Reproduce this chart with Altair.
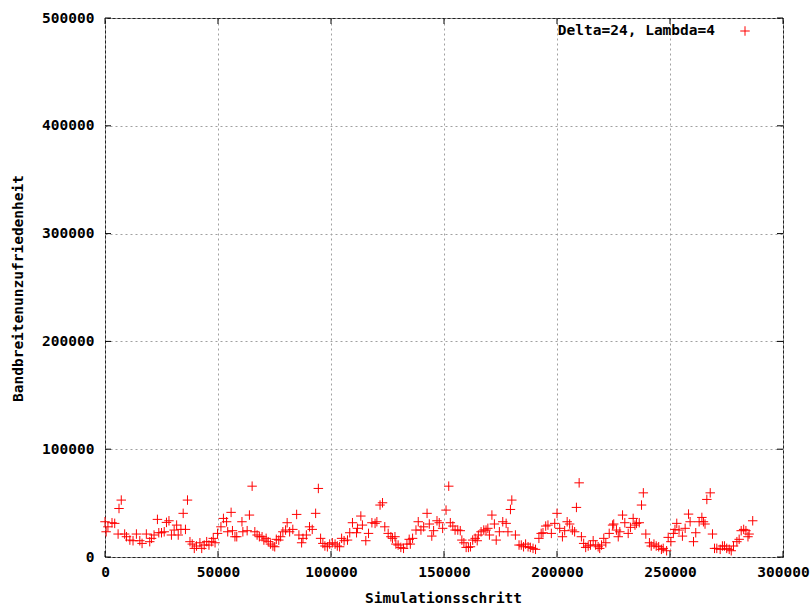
import altair as alt
import pandas as pd

# Simulation step (x) and bandwidth dissatisfaction (y)
steps = [
    0, 500, 1300, 3100, 4300, 5800, 6200, 7200, 8700, 9500, 11000, 12400, 13900, 15400, 16400,
    18300, 19800, 20600, 21700, 23200, 23800, 25000, 26200, 27200, 28300, 29400, 30600, 31700,
    32400, 33600, 34600, 35600, 36500, 37600, 38600, 39500, 40500, 42000, 42800, 43900, 45000,
    46000, 47200, 47900, 48700, 49800, 51300, 52400, 53800, 54300, 55800, 56400, 57500, 58300,
    60600, 61000, 62900, 63900, 65100, 66300, 67300, 68300, 69500, 70300, 71300, 72200, 73200,
    74300, 75100, 75800, 76900, 77700, 78700, 79900, 80600, 81700, 83100, 84800, 85800, 87000,
    87600, 89100, 90500, 91700, 93200, 94400, 95400, 96400, 97300, 98400, 99400, 100600, 101800,
    102800, 103800, 104700, 105800, 107300, 108300, 109500, 111300, 111700, 113200, 113900,
    115400, 116600, 118100, 119500, 120300, 121700, 122800, 123800, 125300, 126500, 127200,
    128300, 128700, 129700, 130900, 132100, 133600, 134600, 135100, 136100, 137600, 138600,
    139800, 141000, 142500, 143500, 144600, 145400, 146900, 147900, 149400, 150900, 152100,
    152800, 153900, 154900, 156100, 157200, 157900, 158800, 159800, 160800, 161700, 162700,
    163800, 164700, 165200, 166400, 167600, 168600, 169400, 170100, 171200, 172300, 173100,
    174500, 176000, 177500, 178300, 179400, 180000, 181600, 183200, 184200, 185200, 186100,
    187200, 188200, 189400, 190500, 192000, 193000, 193800, 195000, 196000, 197500, 199000,
    200000, 201200, 202400, 203400, 204500, 205600, 206800, 207800, 208600, 209800, 210800,
    211800, 212700, 213800, 214800, 216000, 217100, 218200, 218900, 219700, 220700, 221600,
    223100, 224600, 225100, 226300, 227100, 227800, 229000, 230000, 231500, 232500, 233700,
    234500, 235200, 236400, 237400, 238200, 239300, 240900, 241700, 242900, 243900, 245000,
    246200, 247000, 248500, 249200, 250400, 251500, 252200, 253000, 254000, 255500, 256700,
    258200, 258900, 260400, 261400, 262900, 264100, 264800, 265500, 266300, 267800, 268800,
    269700, 270700, 272200, 273200, 274100, 275100, 276200, 277100, 278100, 279600, 280600,
    281500, 282600, 283600, 284500, 285000, 286600,
]
dissatisfaction = [
    32700, 23400, 28000, 31800, 31200, 21300, 45000, 52800, 21300, 18800, 15700, 15100, 21300, 15100, 12600,
    21300, 14200, 17300, 20400, 34900, 22500, 22500, 23400, 32100, 33600, 20400, 25000, 29600,
    20400, 25600, 40500, 25600, 52800, 14200, 12000, 8000, 10200, 13200, 8000, 11100, 14200,
    11100, 14200, 17300, 13200, 21900, 28000, 35800, 32700, 23400, 41400, 24400, 18800, 18800,
    32700, 23400, 24400, 38900, 65700, 23400, 20400, 18800, 18800, 15700, 17300, 14200, 12000,
    10200, 9500, 16400, 15700, 18800, 23400, 25000, 31800, 23400, 25600, 39500, 20400, 13200,
    17300, 20400, 28000, 25600, 40500, 63600, 17300, 12600, 10200, 9500, 12000, 13200, 12000,
    10200, 9500, 17300, 15100, 15700, 22500, 31800, 22500, 26600, 38000, 29600,
    15100, 21900, 31800, 31200, 32700, 48200, 50300, 28000, 21900, 18800, 17300,
    18800, 12000, 11100, 8900, 8000, 12000, 16400, 12000, 17300, 25000, 32700,
    25000, 28000, 40500, 30600, 19400, 24400, 33600, 31800, 26600, 43500, 65700,
    31800, 28700, 25000, 25000, 24400, 15700, 13200, 8900, 8900, 9500, 15700,
    17300, 15100, 20400, 23400, 25000, 25000, 26600, 20400, 38900, 30600, 15700,
    23400, 32700, 31200, 23400, 44100, 52800, 20400, 11100, 11100, 9500, 12000,
    9500, 8900, 8000, 7100, 17300, 21900, 22500, 28700, 29600, 21900, 31200,
    40500, 26600, 18800, 24400, 32700, 30600, 25000, 23400, 46000, 68800, 18800,
    12600, 8900, 10200, 11100, 15100, 11100, 9500, 8000, 11100, 17300, 13200,
    21900, 29600, 30600, 25000, 18800, 23400, 38900, 31800, 21900, 27500, 35800,
    29600, 31200, 31800, 48200, 59500, 21300, 13200, 10200, 12000, 10200, 9500,
    7100, 8000, 5800, 18200, 14200, 21900, 25600, 31200, 25000, 19400, 26600,
    39800, 32700, 14200, 22500, 32700, 36700, 32700, 30600, 53400, 59500, 21300,
    8000, 8000, 7100, 10200, 10200, 8000, 7100, 5800, 10200, 14200, 16400,
    24400, 25600, 24400, 18800, 21300, 33600,
]

x_tick_values = [0, 50000, 100000, 150000, 200000, 250000, 300000]
y_tick_values = [0, 100000, 200000, 300000, 400000, 500000]
series_label = "Delta=24, Lambda=4"
x_title = "Simulationsschritt"
y_title = "Bandbreitenunzufriedenheit"

W, H = 678, 539
FONT = "DejaVu Sans Mono"
RED = "#ff0000"
PLUS = "M-1,0L1,0M0,-1L0,1"

df = pd.DataFrame({"step": steps, "value": dissatisfaction})
xt = pd.DataFrame({"step": x_tick_values})
yt = pd.DataFrame({"value": y_tick_values})
leg = pd.DataFrame({"label": [series_label]})

xscale = alt.Scale(domain=[0, 300000], nice=False, zero=False)
yscale = alt.Scale(domain=[0, 500000], nice=False, zero=False)

xaxis = alt.Axis(values=x_tick_values, format="d", title=x_title,
                 titleX=338, titleY=41, titleBaseline="middle", titleAlign="center")
yaxis = alt.Axis(values=y_tick_values, format="d", title=y_title,
                 titleX=-87, titleY=270, titleBaseline="middle", titleAlign="center",
                 titleAngle=-90)

X = alt.X("step:Q", scale=xscale, axis=xaxis)
Y = alt.Y("value:Q", scale=yscale, axis=yaxis)

points = alt.Chart(df).mark_point(
    shape=PLUS, filled=False, color=RED, stroke=RED, strokeWidth=1, size=90, opacity=1
).encode(x=X, y=Y)

tick_len = 6
xt_bottom = alt.Chart(xt).mark_rule(color="#000", strokeWidth=1).encode(
    x=X, y=alt.value(H), y2=alt.value(H - tick_len))
xt_top = alt.Chart(xt).mark_rule(color="#000", strokeWidth=1).encode(
    x=X, y=alt.value(0), y2=alt.value(tick_len))
yt_left = alt.Chart(yt).mark_rule(color="#000", strokeWidth=1).encode(
    y=Y, x=alt.value(0), x2=alt.value(tick_len))
yt_right = alt.Chart(yt).mark_rule(color="#000", strokeWidth=1).encode(
    y=Y, x=alt.value(W), x2=alt.value(W - tick_len))

leg_text = alt.Chart(leg).mark_text(
    align="right", baseline="middle", font=FONT, fontWeight="bold", fontSize=14.5, color="#000"
).encode(text="label:N", x=alt.value(610), y=alt.value(13))
leg_sym = alt.Chart(leg).mark_point(
    shape=PLUS, filled=False, color=RED, stroke=RED, strokeWidth=1, size=90, opacity=1
).encode(x=alt.value(640), y=alt.value(13))

chart = alt.layer(points, xt_bottom, xt_top, yt_left, yt_right, leg_text, leg_sym).properties(
    width=W, height=H,
    autosize=alt.AutoSizeParams(type="none"),
    padding={"left": 105, "top": 18, "right": 28, "bottom": 48},
    background="white",
).configure_view(
    stroke="#222", strokeWidth=1
).configure_axis(
    grid=True, gridColor="#a0a0a0", gridDash=[2, 3], gridWidth=1,
    ticks=False, domain=False,
    labelFont=FONT, labelFontWeight="bold", labelFontSize=14.5, labelColor="#000",
    titleFont=FONT, titleFontWeight="bold", titleFontSize=14.5, titleColor="#000",
).configure_axisX(
    labelPadding=8, labelFlush=False, labelOverlap=False,
).configure_axisY(
    labelPadding=11, labelOverlap=False,
)

chart.save("out.html", embed_options={"renderer": "svg", "actions": False})
